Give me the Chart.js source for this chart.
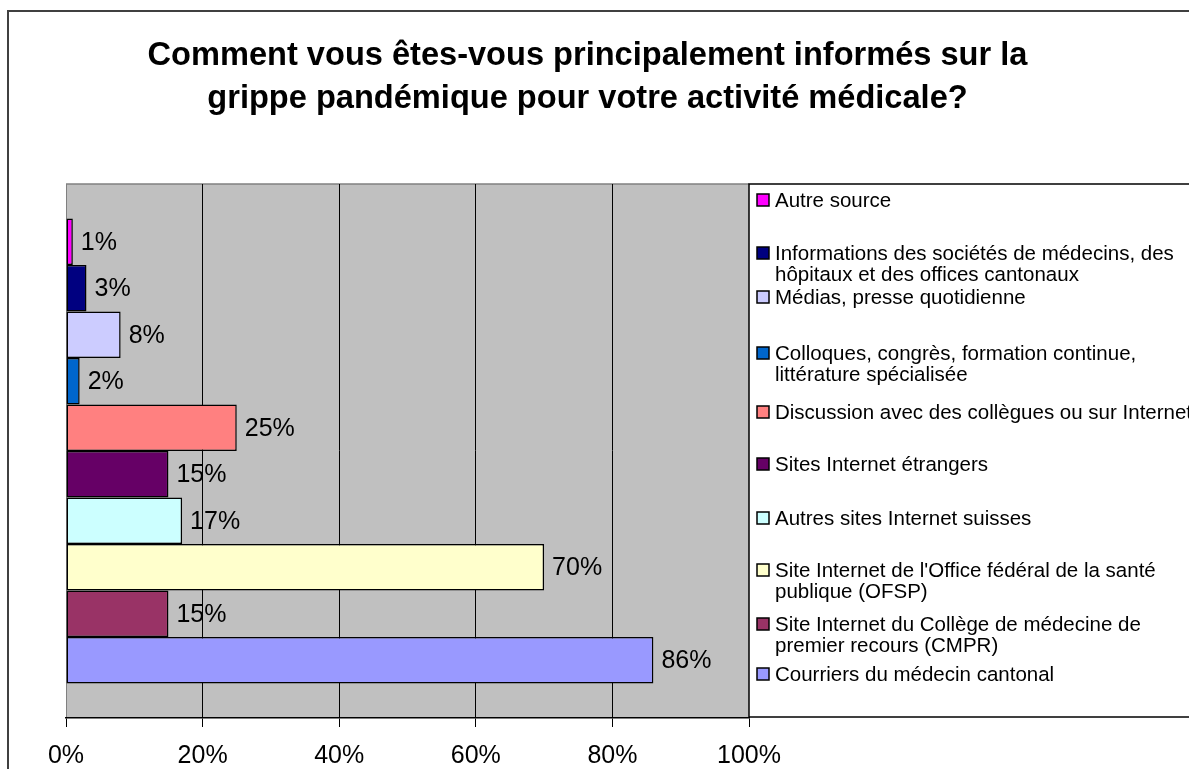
<!DOCTYPE html>
<html>
<head>
<meta charset="utf-8">
<script src="https://cdn.jsdelivr.net/npm/chart.js@4.4.0/dist/chart.umd.min.js"></script>
<style>
  html, body { margin: 0; padding: 0; background: #fff; }
  canvas { display: block; }
</style>
</head>
<body>
<canvas id="chart" width="1189" height="769" style="width:1189px;height:769px"></canvas>
<script>
const titleLines = ["Comment vous êtes-vous principalement informés sur la", "grippe pandémique pour votre activité médicale?"];
const categories = [""];
const seriesNames = [
  "Autre source",
  "Informations des sociétés de médecins, des\nhôpitaux et des offices cantonaux",
  "Médias, presse quotidienne",
  "Colloques, congrès, formation continue,\nlittérature spécialisée",
  "Discussion avec des collègues ou sur Internet",
  "Sites Internet étrangers",
  "Autres sites Internet suisses",
  "Site Internet de l'Office fédéral de la santé\npublique (OFSP)",
  "Site Internet du Collège de médecine de\npremier recours (CMPR)",
  "Courriers du médecin cantonal"
];
const seriesValues = [1, 3, 8, 2, 25, 15, 17, 70, 15, 86];
const seriesColors = ["#FF00FF", "#000080", "#CCCCFF", "#0066CC", "#FF8080", "#660066", "#CCFFFF", "#FFFFCC", "#993366", "#9999FF"];

const FONT = "'Liberation Sans', Arial, sans-serif";

// page frame + grey plot area
const backdrop = {
  id: 'backdrop',
  beforeDraw(chart) {
    const ctx = chart.ctx, a = chart.chartArea;
    ctx.save();
    ctx.fillStyle = '#fff';
    ctx.fillRect(0, 0, chart.width, chart.height);
    ctx.strokeStyle = '#404040';
    ctx.lineWidth = 2;
    ctx.strokeRect(8, 11, 2000, 2000);
    ctx.fillStyle = '#C0C0C0';
    ctx.fillRect(a.left, a.top, a.right - a.left, a.bottom - a.top);
    ctx.strokeStyle = '#808080';
    ctx.lineWidth = 1.5;
    ctx.beginPath();
    ctx.moveTo(a.left, a.top);
    ctx.lineTo(a.right, a.top);
    ctx.stroke();
    ctx.restore();
  }
};

// value labels to the right of each bar
const valueLabels = {
  id: 'valueLabels',
  afterDatasetsDraw(chart) {
    const ctx = chart.ctx;
    ctx.save();
    ctx.font = '25px ' + FONT;
    ctx.fillStyle = '#000';
    ctx.textAlign = 'left';
    ctx.textBaseline = 'middle';
    chart.data.datasets.forEach((ds, i) => {
      const bar = chart.getDatasetMeta(i).data[0];
      ctx.fillText(ds.data[0] + '%', bar.x + 8, bar.y + 1);
    });
    ctx.restore();
  }
};

// legend box on the right, Excel style
const sideLegend = {
  id: 'sideLegend',
  afterDraw(chart, args, opts) {
    const ctx = chart.ctx, a = chart.chartArea;
    ctx.save();
    ctx.fillStyle = '#fff';
    ctx.fillRect(a.right, a.top, 600, a.bottom - a.top - 1);
    ctx.strokeStyle = '#000';
    ctx.lineWidth = 1.5;
    ctx.strokeRect(a.right, a.top, 600, a.bottom - a.top - 1);
    ctx.font = '20.5px ' + FONT;
    ctx.textAlign = 'left';
    ctx.textBaseline = 'middle';
    chart.data.datasets.forEach((ds, i) => {
      const y = opts.rows[i];
      ctx.fillStyle = ds.backgroundColor;
      ctx.fillRect(a.right + 8, y - 6, 12, 12);
      ctx.strokeStyle = '#000';
      ctx.lineWidth = 1.5;
      ctx.strokeRect(a.right + 8, y - 6, 12, 12);
      ctx.fillStyle = '#000';
      ds.label.split('\n').forEach((line, k) => {
        ctx.fillText(line, a.right + 26, y + 1 + k * opts.lineGap);
      });
    });
    ctx.restore();
  }
};

const datasets = seriesNames.map((name, i) => ({
  label: name,
  data: [seriesValues[i]],
  backgroundColor: seriesColors[i],
  borderColor: '#000',
  borderWidth: 1.5,
  borderSkipped: false,
  categoryPercentage: 0.871,
  barPercentage: 1
}));

new Chart(document.getElementById('chart').getContext('2d'), {
  type: 'bar',
  data: { labels: categories, datasets: datasets },
  options: {
    indexAxis: 'y',
    responsive: false,
    animation: false,
    devicePixelRatio: 1,
    layout: { padding: { left: 0, right: 14, top: 0, bottom: 0 } },
    scales: {
      x: {
        type: 'linear',
        min: 0,
        max: 100,
        ticks: {
          stepSize: 20,
          autoSkip: false,
          maxRotation: 0,
          padding: 14,
          color: '#000',
          font: { family: FONT, size: 25 },
          callback: v => v + '%'
        },
        grid: {
          color: c => (c.tick && c.tick.value === 0) ? '#808080' : '#000',
          lineWidth: 1,
          tickLength: 9,
          tickColor: '#000'
        },
        border: { color: '#000', width: 1.5 },
        afterFit: s => { s.height = 51; }
      },
      y: {
        type: 'category',
        position: 'left',
        ticks: { display: false },
        grid: { display: false },
        border: { display: false },
        afterFit: s => { s.width = 66; }
      },
      y2: {
        type: 'category',
        position: 'right',
        ticks: { display: false },
        grid: { display: false },
        border: { display: false },
        afterFit: s => { s.width = 426; }
      }
    },
    plugins: {
      legend: { display: false },
      tooltip: { enabled: false },
      title: {
        display: true,
        text: titleLines,
        color: '#000',
        font: { family: FONT, size: 32.6, weight: 'bold', lineHeight: 43 / 32.6 },
        padding: { top: 34.5, bottom: 63.5 }
      },
      sideLegend: {
        rows: [200, 253, 297, 353, 412, 464, 518, 570, 624, 674],
        lineGap: 21
      }
    }
  },
  plugins: [backdrop, valueLabels, sideLegend]
});
</script>
</body>
</html>
